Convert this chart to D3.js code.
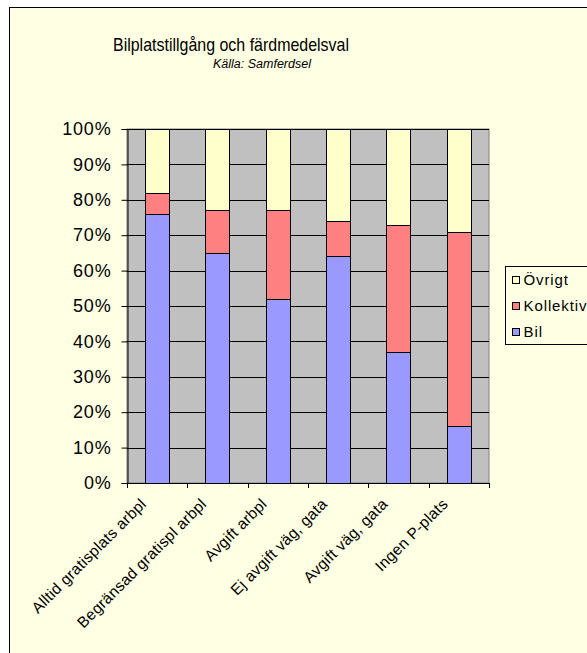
<!DOCTYPE html>
<html>
<head>
<meta charset="utf-8">
<script src="https://cdn.jsdelivr.net/npm/d3@7"></script>
<style>
  html, body { margin: 0; padding: 0; background: #ffffff; }
  svg { display: block; font-family: Arial, "Liberation Sans", sans-serif; }
</style>
</head>
<body>
<svg id="chart" width="587" height="653"></svg>
<script>
// Modal split by parking availability at the destination (share of trips)
const categories = [
  "Alltid gratisplats arbpl",
  "Begränsad gratispl arbpl",
  "Avgift arbpl",
  "Ej avgift väg, gata",
  "Avgift väg, gata",
  "Ingen P-plats"
];
const bil       = [76, 65, 52, 64, 37, 16];
const kollektiv = [6, 12, 25, 10, 36, 55];
const ovrigt    = [18, 23, 23, 26, 27, 29];
const seriesNames  = ["Bil", "Kollektiv", "Övrigt"];
const seriesColors = ["#9999ff", "#ff8080", "#ffffcc"];
const yTicks = [0, 10, 20, 30, 40, 50, 60, 70, 80, 90, 100];

const svg = d3.select("#chart");
const W = 587, H = 653;

// chart area with its frame
svg.append("rect")
  .attr("x", 9.5).attr("y", 7.5)
  .attr("width", W).attr("height", H)
  .attr("fill", "#ffffe3").attr("stroke", "#000").attr("stroke-width", 1);

// titles
svg.append("text")
  .attr("x", 231).attr("y", 51)
  .attr("text-anchor", "middle")
  .attr("font-size", 19).attr("fill", "#000")
  .attr("textLength", 236).attr("lengthAdjust", "spacingAndGlyphs")
  .text("Bilplatstillgång och färdmedelsval");
svg.append("text")
  .attr("x", 213).attr("y", 68)
  .attr("font-size", 12.5).attr("font-style", "italic").attr("fill", "#000")
  .text("Källa: Samferdsel");

const plot = { left: 127, top: 129, right: 489, bottom: 483 };

const x = d3.scaleBand()
  .domain(categories)
  .range([plot.left, plot.right])
  .paddingInner(0.6).paddingOuter(0.3);
const xGroup = d3.scaleBand().domain(categories).range([plot.left, plot.right]);
const y = d3.scaleLinear().domain([0, 100]).range([plot.bottom, plot.top]);

// plot background
svg.append("rect")
  .attr("x", plot.left).attr("y", plot.top)
  .attr("width", plot.right - plot.left).attr("height", plot.bottom - plot.top)
  .attr("fill", "#c0c0c0").attr("stroke", "#808080").attr("stroke-width", 1);

// horizontal gridlines
svg.append("g")
  .selectAll("line")
  .data(yTicks.filter(t => t > 0))
  .join("line")
  .attr("x1", plot.left).attr("x2", plot.right)
  .attr("y1", d => Math.round(y(d)) + 0.5).attr("y2", d => Math.round(y(d)) + 0.5)
  .attr("stroke", "#000").attr("stroke-width", 1);

// stacked bars
const rows = categories.map((c, i) => ({ cat: c, Bil: bil[i], Kollektiv: kollektiv[i], "Övrigt": ovrigt[i] }));
const stack = d3.stack().keys(seriesNames)(rows);
const color = d3.scaleOrdinal().domain(seriesNames).range(seriesColors);

svg.append("g")
  .selectAll("g")
  .data(stack)
  .join("g")
  .attr("fill", d => color(d.key))
  .selectAll("rect")
  .data(d => d)
  .join("rect")
  .attr("x", d => Math.round(x(d.data.cat)) + 0.5)
  .attr("y", d => Math.round(y(d[1])) + 0.5)
  .attr("width", Math.round(x.bandwidth()))
  .attr("height", d => Math.round(y(d[0])) - Math.round(y(d[1])))
  .attr("stroke", "#000").attr("stroke-width", 1);

// y axis
const yAxis = svg.append("g")
  .attr("transform", `translate(${plot.left + 0.5},0)`)
  .call(d3.axisLeft(y).tickValues(yTicks).tickFormat(d => d + "%").tickSize(6).tickPadding(10));
yAxis.select(".domain").attr("stroke", "#000");
yAxis.selectAll(".tick line").attr("stroke", "#000");
yAxis.selectAll(".tick text")
  .attr("font-size", 18).attr("letter-spacing", 0.8)
  .attr("font-family", "Arial, 'Liberation Sans', sans-serif").attr("fill", "#000");

// x axis with ticks between categories
const boundaries = categories.map(c => xGroup(c)).concat([plot.right]);
svg.append("line")
  .attr("x1", plot.left).attr("x2", plot.right)
  .attr("y1", plot.bottom + 0.5).attr("y2", plot.bottom + 0.5)
  .attr("stroke", "#000");
svg.append("g")
  .selectAll("line")
  .data(boundaries)
  .join("line")
  .attr("x1", d => Math.round(d) + 0.5).attr("x2", d => Math.round(d) + 0.5)
  .attr("y1", plot.bottom).attr("y2", plot.bottom + 5)
  .attr("stroke", "#000");

svg.append("g")
  .selectAll("text")
  .data(categories)
  .join("text")
  .attr("transform", d => `translate(${xGroup(d) + xGroup.bandwidth() / 2 - 10},${plot.bottom + 22}) rotate(-45)`)
  .attr("text-anchor", "end")
  .attr("font-size", 15.5).attr("letter-spacing", 0.3).attr("fill", "#000")
  .text(d => d);

// legend
const lg = svg.append("g").attr("transform", "translate(505.5,266.5)");
lg.append("rect")
  .attr("width", 120).attr("height", 78)
  .attr("fill", "#ffffe3").attr("stroke", "#000");
const legendOrder = ["Övrigt", "Kollektiv", "Bil"];
const items = lg.selectAll("g.item")
  .data(legendOrder)
  .join("g")
  .attr("class", "item")
  .attr("transform", (d, i) => `translate(7,${13 + i * 26})`);
items.append("rect")
  .attr("x", 0).attr("y", -3).attr("width", 7).attr("height", 7)
  .attr("fill", d => color(d)).attr("stroke", "#000");
items.append("text")
  .attr("x", 11).attr("y", 5)
  .attr("font-size", 15).attr("letter-spacing", 0.9).attr("fill", "#000")
  .text(d => d);
</script>
</body>
</html>
